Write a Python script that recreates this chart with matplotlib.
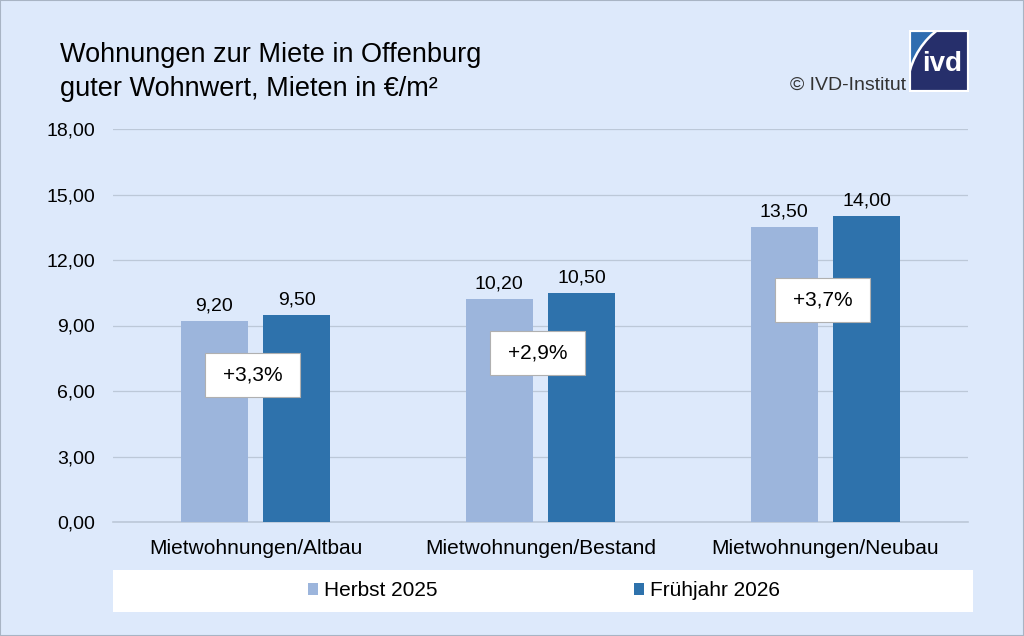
import matplotlib
matplotlib.use("Agg")
import matplotlib.pyplot as plt
import numpy as np
from matplotlib.patches import Rectangle, Circle
from matplotlib.transforms import ScaledTranslation

plt.rcParams['font.family'] = ['Liberation Sans', 'DejaVu Sans']

categories = ["Mietwohnungen/Altbau", "Mietwohnungen/Bestand", "Mietwohnungen/Neubau"]
series_names = ["Herbst 2025", "Frühjahr 2026"]
herbst = [9.20, 10.20, 13.50]
fruehjahr = [9.50, 10.50, 14.00]
changes = ["+3,3%", "+2,9%", "+3,7%"]
change_y = [6.73, 7.74, 10.17]
yticks = [0, 3, 6, 9, 12, 15, 18]

bg = "#dde9fb"
c_light = "#9cb5dc"
c_dark = "#2e72ac"

fig = plt.figure(figsize=(10.24, 6.36), dpi=100, facecolor=bg)
fig.patches.append(Rectangle((0, 0), 1, 1, transform=fig.transFigure, fill=False,
                             edgecolor="#a8b4c4", linewidth=1.5))

ax = fig.add_axes([113/1024, 1-522/636, 855/1024, 393/636])
ax.set_facecolor(bg)
x = np.arange(len(categories))
w = 0.235
off = 0.145
b1 = ax.bar(x - off, herbst, w, color=c_light, label=series_names[0], zorder=3)
b2 = ax.bar(x + off, fruehjahr, w, color=c_dark, label=series_names[1], zorder=3)

def fmt(v):
    return f"{v:.2f}".replace(".", ",")

for bars, vals in ((b1, herbst), (b2, fruehjahr)):
    for r, v in zip(bars, vals):
        ax.annotate(fmt(v), (r.get_x() + r.get_width()/2, v), xytext=(0, 7.6),
                    textcoords="offset points", ha="center", va="baseline",
                    fontsize=14, zorder=5)

for xi, t, yv in zip(x, changes, change_y):
    cx = xi - 0.01
    tr = fig.dpi_scale_trans + ScaledTranslation(cx, yv, ax.transData)
    ax.add_patch(Rectangle((-0.475, -0.22), 0.95, 0.44, transform=tr,
                           facecolor="white", edgecolor="#b0b0b0", linewidth=0.8,
                           zorder=6))
    ax.text(cx, yv, t, ha="center", va="center", fontsize=15, zorder=7)

ax.set_xlim(-0.5, 2.5)
ax.set_ylim(0, 18)
ax.set_yticks(yticks)
ax.set_yticklabels([fmt(v) for v in yticks], fontsize=14)
ax.set_xticks(x)
ax.set_xticklabels(categories, fontsize=15)
ax.tick_params(axis="both", length=0)
ax.tick_params(axis="y", pad=13)
ax.tick_params(axis="x", pad=12)
ax.grid(axis="y", color="#bcc8d8", linewidth=0.9, zorder=0)
for s in ("top", "right", "left"):
    ax.spines[s].set_visible(False)
ax.spines["bottom"].set_color("#bcc8d8")
ax.spines["bottom"].set_linewidth(1.2)

# legend
fig.patches.append(Rectangle((113/1024, 1-612/636), 860/1024, 42/636,
                             transform=fig.transFigure, facecolor="white",
                             edgecolor="none", zorder=1))
leg = fig.legend(handles=[b1, b2], labels=series_names, loc="center",
                 bbox_to_anchor=(544/1024, 1-591/636), ncol=2, frameon=False,
                 fontsize=15, handlelength=0.48, handleheight=0.48,
                 handletextpad=0.29, columnspacing=9.4)

# title
fig.text(60/1024, 1-62/636, "Wohnungen zur Miete in Offenburg",
         fontsize=19.5, va="baseline", ha="left")
fig.text(60/1024, 1-96/636, "guter Wohnwert, Mieten in €/m²",
         fontsize=19.5, va="baseline", ha="left")
fig.text(906/1024, 1-90/636, "© IVD-Institut", fontsize=14, ha="right", va="baseline",
         color="#333333")

# logo
lax = fig.add_axes([909/1024, 1-92/636, 60/1024, 62/636])
lax.set_xlim(0, 1); lax.set_ylim(0, 1); lax.axis("off")
lax.add_patch(Rectangle((0, 0), 1, 1, facecolor="#2f6db0", edgecolor="none"))
circ = Circle((1.2, 0.0), 1.235, facecolor="#262f6b", edgecolor="white", linewidth=1.8)
lax.add_patch(circ)
clip = Rectangle((0, 0), 1, 1, transform=lax.transData, facecolor="none")
circ.set_clip_path(clip)
lax.add_patch(Rectangle((0, 0), 1, 1, facecolor="none", edgecolor="white", linewidth=3))
lax.text(0.55, 0.45, "ivd", color="white", fontsize=20, fontweight="bold",
         ha="center", va="center")

fig.savefig("out.png", dpi=100, facecolor=bg)
